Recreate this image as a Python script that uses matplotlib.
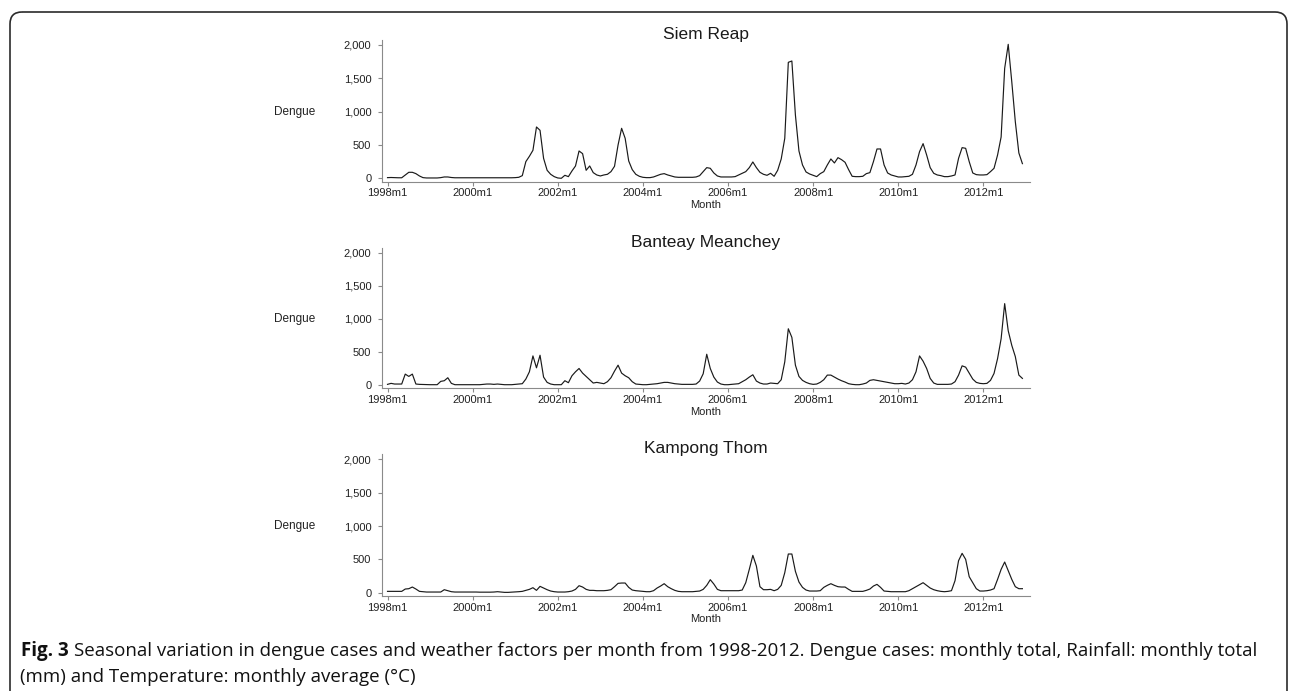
import matplotlib
matplotlib.use("Agg")
import matplotlib.pyplot as plt
import matplotlib.transforms as mtransforms
from matplotlib.patches import FancyBboxPatch
from matplotlib.ticker import FuncFormatter
import numpy as np

# monthly dengue cases, 1998m1 .. 2012m12 (one row per year)
siem_reap = [
    10, 12, 10, 8, 8, 50, 90, 90, 70, 35, 10, 5,
    5, 5, 5, 10, 20, 20, 12, 8, 8, 8, 8, 8,
    8, 8, 8, 8, 8, 8, 8, 8, 8, 8, 8, 8,
    10, 15, 40, 250, 330, 420, 770, 720, 300, 120, 60, 25,
    5, 0, 45, 25, 110, 185, 410, 370, 120, 185, 85, 50,
    35, 50, 60, 100, 180, 500, 750, 600, 260, 130, 60, 30,
    15, 10, 10, 20, 40, 60, 70, 50, 35, 20, 15, 15,
    15, 15, 15, 20, 40, 100, 160, 150, 80, 35, 20, 20,
    20, 20, 25, 50, 75, 100, 160, 245, 160, 90, 60, 45,
    75, 30, 120, 290, 600, 1740, 1760, 950, 410, 200, 95, 65,
    45, 25, 70, 100, 200, 290, 230, 310, 280, 240, 130, 30,
    25, 25, 30, 70, 85, 250, 440, 440, 200, 80, 50, 35,
    20, 20, 25, 30, 60, 200, 400, 520, 350, 160, 75, 50,
    40, 25, 25, 35, 50, 300, 460, 450, 250, 80, 55, 50,
    50, 55, 100, 150, 350, 620, 1650, 2010, 1450, 850, 380, 220,
]
banteay_meanchey = [
    10, 25, 15, 15, 15, 165, 130, 165, 15, 10, 8, 5,
    5, 5, 5, 55, 65, 110, 25, 5, 5, 5, 5, 5,
    5, 5, 5, 10, 15, 15, 10, 15, 10, 5, 5, 5,
    10, 15, 20, 90, 200, 440, 260, 450, 120, 40, 15, 5,
    5, 5, 65, 35, 140, 200, 250, 180, 130, 80, 30, 40,
    30, 20, 50, 110, 210, 300, 180, 140, 110, 50, 15, 10,
    5, 5, 10, 15, 20, 30, 40, 40, 30, 20, 15, 10,
    10, 10, 10, 15, 60, 170, 465, 250, 120, 45, 15, 5,
    5, 10, 15, 20, 50, 80, 120, 155, 60, 30, 15, 15,
    30, 25, 20, 80, 350, 850, 720, 300, 130, 70, 40, 20,
    10, 15, 40, 80, 150, 150, 120, 90, 65, 45, 20, 10,
    5, 5, 15, 30, 70, 80, 70, 60, 50, 40, 30, 20,
    20, 25, 15, 30, 80, 200, 440, 360, 250, 100, 30, 10,
    10, 10, 10, 15, 50, 150, 290, 270, 180, 90, 40, 25,
    20, 25, 70, 175, 400, 700, 1230, 820, 600, 430, 150, 100,
]
kampong_thom = [
    20, 20, 20, 20, 20, 55, 60, 85, 55, 20, 15, 10,
    10, 10, 10, 10, 45, 30, 15, 10, 10, 10, 10, 10,
    10, 10, 8, 8, 8, 8, 10, 15, 10, 5, 5, 8,
    10, 15, 20, 35, 50, 75, 35, 95, 70, 45, 25, 15,
    10, 10, 10, 15, 25, 50, 105, 85, 50, 35, 35, 30,
    30, 30, 35, 45, 90, 140, 145, 145, 80, 40, 30, 25,
    20, 15, 15, 30, 70, 100, 135, 90, 60, 35, 20, 15,
    15, 15, 15, 20, 25, 50, 110, 195, 130, 50, 30, 30,
    30, 30, 30, 30, 40, 150, 350, 560, 400, 90, 45, 45,
    50, 30, 50, 110, 300, 580, 580, 320, 160, 80, 40, 25,
    25, 25, 30, 80, 110, 135, 110, 90, 85, 85, 50, 20,
    20, 20, 20, 35, 55, 100, 125, 80, 25, 20, 15, 15,
    15, 15, 15, 30, 60, 90, 120, 150, 110, 70, 45, 30,
    20, 15, 20, 30, 180, 480, 590, 500, 240, 150, 60, 25,
    25, 30, 40, 60, 200, 350, 460, 330, 200, 90, 60, 60,
]
provinces = ["Siem Reap", "Banteay Meanchey", "Kampong Thom"]
tick_labels = ["1998m1", "2000m1", "2002m1", "2004m1",
               "2006m1", "2008m1", "2010m1", "2012m1"]
y_ticks = [0, 500, 1000, 1500, 2000]

caption_bold = "Fig. 3"
caption_1 = ("Seasonal variation in dengue cases and weather factors per month from "
             "1998-2012. Dengue cases: monthly total, Rainfall: monthly total")
caption_2 = "(mm) and Temperature: monthly average (\u00b0C)"

plt.rcParams["font.family"] = ["Liberation Sans", "DejaVu Sans"]

W, H = 1290, 691
fig = plt.figure(figsize=(W / 100, H / 100), dpi=100)

# pixel-space overlay for the frame and the caption
bg = fig.add_axes([0, 0, 1, 1], zorder=-1)
bg.set_xlim(0, W)
bg.set_ylim(H, 0)
bg.axis("off")
bg.add_patch(FancyBboxPatch((10, 12), 1277, 740, boxstyle="round,pad=0,rounding_size=12",
                            fill=False, ec="#2b2b2b", lw=1.2))

axis_grey = "#8a8a8a"
months = np.arange(len(siem_reap))
tick_pos = months[::24][:len(tick_labels)]
series = [siem_reap, banteay_meanchey, kampong_thom]
tops = [40, 247.7, 454.3]
bottoms = [181.7, 388.4, 596.1]
left_px, right_px = 381.7, 1029.5

for name, values, top, bot in zip(provinces, series, tops, bottoms):
    ax = fig.add_axes([left_px / W, 1 - bot / H, (right_px - left_px) / W, (bot - top) / H])
    ax.plot(months, values, color="#1a1a1a", lw=0.85)
    ax.set_xlim(-1.64, 181)
    ax.set_ylim(-51, 2075)
    ax.set_xticks(tick_pos)
    ax.set_xticklabels(tick_labels)
    ax.set_yticks(y_ticks)
    ax.yaxis.set_major_formatter(FuncFormatter(lambda v, p: f"{int(v):,}"))
    for s in ["top", "right"]:
        ax.spines[s].set_visible(False)
    for s in ["left", "bottom"]:
        ax.spines[s].set_color(axis_grey)
        ax.spines[s].set_linewidth(0.8)
    ax.tick_params(axis="both", colors=axis_grey, labelcolor="#222222",
                   labelsize=8, length=3.2, width=0.8)
    ax.tick_params(axis="x", pad=1.5)
    ax.tick_params(axis="y", pad=4.3)
    ax.set_facecolor("none")

    ax.text(0.5, 1.04, name, transform=ax.transAxes, ha="center", va="center",
            fontsize=12.5, color="#1a1a1a")
    ax.text(0.5, -0.165, "Month", transform=ax.transAxes, ha="center", va="center",
            fontsize=8, color="#222222")
    tr = mtransforms.blended_transform_factory(ax.transAxes, ax.transData)
    ax.text(-0.134, 1000, "Dengue", transform=tr, ha="center", va="center",
            fontsize=8.5, color="#222222")

cap_font = ["Open Sans", "DejaVu Sans"]
fb = bg.text(21, 651, caption_bold, ha="left", va="center", fontsize=13.5,
             fontweight="bold", family=cap_font, color="#111111")
bg.annotate(caption_1, xy=(1, 0.5), xycoords=fb, xytext=(4, 0), textcoords="offset points",
            ha="left", va="center", fontsize=13.5, family=cap_font, color="#111111")
bg.text(20, 677, caption_2, ha="left", va="center", fontsize=13.5,
        family=cap_font, color="#111111")

fig.savefig("out.png", dpi=100)
